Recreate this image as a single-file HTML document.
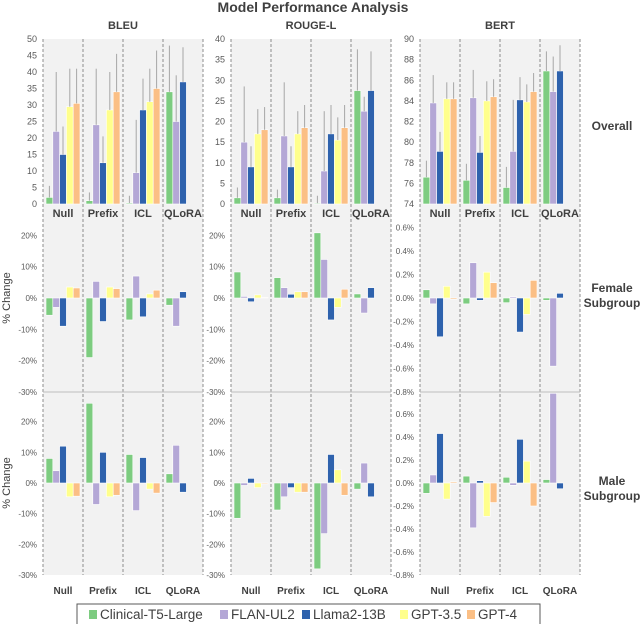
<!DOCTYPE html>
<html><head><meta charset="utf-8"><style>
body{margin:0;background:#fff;width:640px;height:624px;overflow:hidden;font-family:"Liberation Sans",sans-serif}
</style></head><body>
<svg id="c" width="640" height="624" xmlns="http://www.w3.org/2000/svg"></svg>
<script>
const models=["Clinical-T5-Large","FLAN-UL2","Llama2-13B","GPT-3.5","GPT-4"];
const colors=["#7dcc80","#b4a7d6","#2e62ad","#ffff8c","#fbbf85"];
const methods=["Null","Prefix","ICL","QLoRA"];
const metrics=["BLEU","ROUGE-L","BERT"];
// Overall values [metric][method][model]
const overallBLEU=[[2,22,15,29.5,30.5],[1,24,12.5,28.5,34],[0.3,9.5,28.5,31,35],[34,25,37]];
const errBLEU=[[5.5,40,23.5,41,41],[3.5,41,20.5,40,45.5],[2.5,25.5,38,41,46.5],[48,39,47.5]];
const overallROUGE=[[1.5,15,9,17,18],[1.5,16.5,9,17,18.5],[0.2,8,17,15.5,18.5],[27.5,22.5,27.5]];
const errROUGE=[[4,28.5,14,23,23.5],[3.5,29.5,14,22.5,24],[2,22.5,24,21,24],[37.5,26,37]];
const overallBERT=[[76.6,83.8,79.1,84.2,84.2],[76.3,84.3,79,84,84.4],[75.6,79.1,84.1,83.9,84.9],[86.9,84.9,86.9]];
const errBERT=[[78.2,86.5,81,85.8,85.8],[77.9,87,80.6,85.9,86.1],[77.6,84.1,86.3,85.6,86.7],[88.8,88.3,89.4]];
const femaleBLEU=[[-5.5,-3,-9,3.5,3.2],[-19,5.3,-7.5,3.5,3],[-7,7,-6,1.3,2.5],[-2.3,-9,2]];
const femaleROUGE=[[8.3,0.5,-1.2,1,0.2],[6.5,3.3,1.2,2,2],[20.8,12.3,-7,-3,2.8],[1.3,-4.8,3.3]];
const femaleBERT=[[0.07,-0.05,-0.33,0.1,-0.01],[-0.05,0.3,-0.02,0.22,0.13],[-0.04,0.01,-0.29,-0.14,0.15],[-0.02,-0.58,0.04]];
const maleBLEU=[[8,4,12,-4.5,-4.3],[26,-7,10,-4.5,-4],[9.3,-9,8.3,-2,-3.3],[3,12.3,-3]];
const maleROUGE=[[-11.5,-0.8,1.5,-1.5,-0.3],[-8.8,-4.5,-1.5,-3,-3],[-28,-16.5,9.3,4.3,-4],[-2,6.5,-4.5]];
const maleBERT=[[-0.09,0.07,0.43,-0.14,0.01],[0.06,-0.39,0.02,-0.29,-0.17],[0.05,-0.02,0.38,0.19,-0.2],[0.03,0.78,-0.05]];
const ticksBLEU=[0,5,10,15,20,25,30,35,40,45,50];
const ticksROUGE=[0,5,10,15,20,25,30,35,40];
const ticksBERT=[74,76,78,80,82,84,86,88,90];
const ticksPct=[-30,-20,-10,0,10,20];
const ticksPctBERT=[-0.8,-0.6,-0.4,-0.2,0,0.2,0.4,0.6];

const NS="http://www.w3.org/2000/svg";
const svg=document.getElementById('c');
function el(t,a,txt){const e=document.createElementNS(NS,t);for(const k in a)e.setAttribute(k,a[k]);if(txt!==undefined)e.textContent=txt;svg.appendChild(e);return e;}

const panelX=[43,231,420];
const W=160,GW=40,BW=6.8,OFF=3;
// backgrounds
panelX.forEach((x,i)=>{
 const r=el('rect',{x:x,y:39,width:W,height:536,fill:'#f2f2f2'});
 
 
});
let t=el('text',{x:313,y:12,'text-anchor':'middle','font-size':14,'font-weight':'bold',fill:'#404040'},'Model Performance Analysis');

metrics.forEach((m,i)=>{
 const h=el('text',{x:panelX[i]+W/2,y:29,'text-anchor':'middle','font-size':11,'font-weight':'bold',fill:'#404040'},m);
 
});
function scale(min,max,yTop,yBot){return v=>yBot-(v-min)/(max-min)*(yBot-yTop);}
const rows=[
 {name:'overall',yTop:39,yBot:204,sets:[[overallBLEU,errBLEU,0,50,ticksBLEU,v=>v],[overallROUGE,errROUGE,0,40,ticksROUGE,v=>v],[overallBERT,errBERT,74,90,ticksBERT,v=>v]]},
 {name:'female',yTop:204,yBot:392,sets:[[femaleBLEU,null,-30,30,ticksPct,v=>v+'%'],[femaleROUGE,null,-30,30,ticksPct,v=>v+'%'],[femaleBERT,null,-0.8,0.8,ticksPctBERT,v=>v.toFixed(1)+'%']]},
 {name:'male',yTop:391,yBot:575,sets:[[maleBLEU,null,-30,30,ticksPct,v=>v+'%'],[maleROUGE,null,-30,30,ticksPct,v=>v+'%'],[maleBERT,null,-0.8,0.8,ticksPctBERT,v=>v.toFixed(1)+'%']]}
];
rows.forEach(row=>{
 row.sets.forEach((s,pi)=>{
  const [vals,errs,min,max,ticks,fmt]=s;
  const y=scale(min,max,row.yTop,row.yBot);
  const x0=panelX[pi];
  ticks.forEach(tv=>{
   const tt=el('text',{x:x0-6,y:y(tv)+3,'text-anchor':'end','font-size':row.name==='overall'?9:8,fill:'#595959'},row.name==='overall'?String(tv):fmt(tv));
   
  });
  const base=y(Math.max(min,0));
  vals.forEach((grp,gi)=>{
   grp.forEach((v,mi)=>{
    const bx=x0+gi*GW+OFF+mi*BW;
    const yv=y(v);
    const b=el('rect',{x:bx,y:Math.min(yv,base),width:BW,height:Math.max(0.5,Math.abs(base-yv)),fill:colors[mi],stroke:'#fff','stroke-width':0.6});
    
    
    if(errs){
     const e=el('line',{x1:bx+BW/2,x2:bx+BW/2,y1:yv,y2:y(errs[gi][mi]),stroke:'#a6a6a6','stroke-width':1});
     
    }
   });
  });
 });
});
// dashed dividers
panelX.forEach(x=>{for(let g=0;g<=4;g++){
 const l=el('line',{x1:x+g*GW,x2:x+g*GW,y1:39,y2:575,stroke:'#8c8c8c','stroke-width':1,'stroke-dasharray':'3,2'});
 
}
 const hl=el('line',{x1:x,x2:x+W,y1:392,y2:392,stroke:'#bfbfbf','stroke-width':1});
 
 methods.forEach((m,gi)=>{
  [217,594].forEach(yy=>{
   const c=el('text',{x:x+gi*GW+GW/2,y:yy,'text-anchor':'middle','font-size':yy<300?11:10,'font-weight':'bold',fill:'#404040'},m);
   
  });
 });
});
[['Overall',130],['Female',292],['Subgroup',307],['Male',485],['Subgroup',500]].forEach(([s,yy])=>{
 const r=el('text',{x:612,y:yy,'text-anchor':'middle','font-size':12,'font-weight':'bold',fill:'#404040'},s);
 
});
[298,483].forEach(cy=>{
 const a=el('text',{x:0,y:0,transform:'translate(10,'+cy+') rotate(-90)','text-anchor':'middle','font-size':11,fill:'#404040'},'% Change');
 
});
const lb=el('rect',{x:77,y:604,width:463,height:26,fill:'#fff',stroke:'#595959','stroke-width':1});

const lx=[89,220,302,400,467];
models.forEach((m,i)=>{
 const s=el('rect',{x:lx[i],y:610,width:8,height:9,fill:colors[i]});
 
 const tx=el('text',{x:lx[i]+11,y:619,'font-size':13.5,fill:'#404040'},m);
 
});
</script>
</body></html>
